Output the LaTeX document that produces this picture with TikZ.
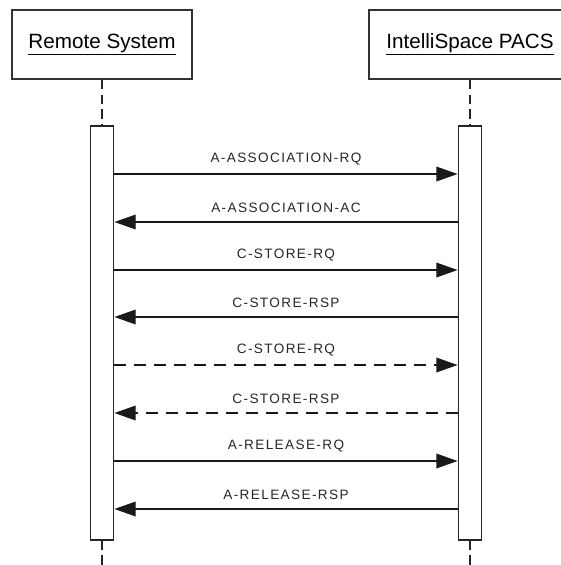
\documentclass[tikz,border=0pt]{standalone}
\usepackage{fontspec}
\setmainfont{Liberation Sans}
\usetikzlibrary{arrows.meta, positioning}

\begin{document}
\begin{tikzpicture}[
  x=0.75pt, y=-0.75pt,
  actor/.style={rectangle, draw=black!80, line width=1.3pt, minimum width=135pt,
                minimum height=51.75pt, font=\fontsize{15.5}{18}\selectfont},
  bar/.style={rectangle, draw=black!85, line width=1.1pt, minimum width=17.5pt,
              minimum height=310.5pt, inner sep=0pt},
  lifeline/.style={draw=black!85, line width=1.1pt, dash pattern=on 7pt off 4pt},
  msg/.style={-{Triangle[length=16pt, width=11pt]}, line width=1.1pt, black!90},
  reply/.style={msg, dash pattern=on 9pt off 6pt},
  lbl/.style={midway, above=6.5pt, inner sep=0pt, text=black!85,
              font=\fontsize{10.2}{12}\selectfont\addfontfeatures{LetterSpace=10}}
]
  \useasboundingbox (0,0) rectangle (561,565);

  \node[actor] (remote) at (102,44.5) {\underline{Remote System}};
  \node[actor, minimum width=151.5pt] (pacs) at (470,44.5) {\underline{IntelliSpace PACS}};
  \node[bar] (rbar) at (102,333) {};
  \node[bar] (pbar) at (470,333) {};
  \coordinate (rend) at (102,565);
  \coordinate (pend) at (470,565);

  \draw[lifeline] (remote) -- (rbar);
  \draw[lifeline] (rbar) -- (rend);
  \draw[lifeline] (pacs) -- (pbar);
  \draw[lifeline] (pbar) -- (pend);

  % message rows
  \coordinate (m1) at (0,174);
  \coordinate (m2) at (0,222);
  \coordinate (m3) at (0,270);
  \coordinate (m4) at (0,317);
  \coordinate (m5) at (0,365);
  \coordinate (m6) at (0,413);
  \coordinate (m7) at (0,461);
  \coordinate (m8) at (0,509);

  \draw[msg] (rbar.east |- m1) -- (pbar.west |- m1) node[lbl] {A-ASSOCIATION-RQ};
  \draw[msg] (pbar.west |- m2) -- (rbar.east |- m2) node[lbl] {A-ASSOCIATION-AC};
  \draw[msg] (rbar.east |- m3) -- (pbar.west |- m3) node[lbl] {C-STORE-RQ};
  \draw[msg] (pbar.west |- m4) -- (rbar.east |- m4) node[lbl] {C-STORE-RSP};
  \draw[reply] (rbar.east |- m5) -- (pbar.west |- m5) node[lbl] {C-STORE-RQ};
  \draw[reply] (pbar.west |- m6) -- (rbar.east |- m6) node[lbl] {C-STORE-RSP};
  \draw[msg] (rbar.east |- m7) -- (pbar.west |- m7) node[lbl] {A-RELEASE-RQ};
  \draw[msg] (pbar.west |- m8) -- (rbar.east |- m8) node[lbl] {A-RELEASE-RSP};
\end{tikzpicture}
\end{document}
